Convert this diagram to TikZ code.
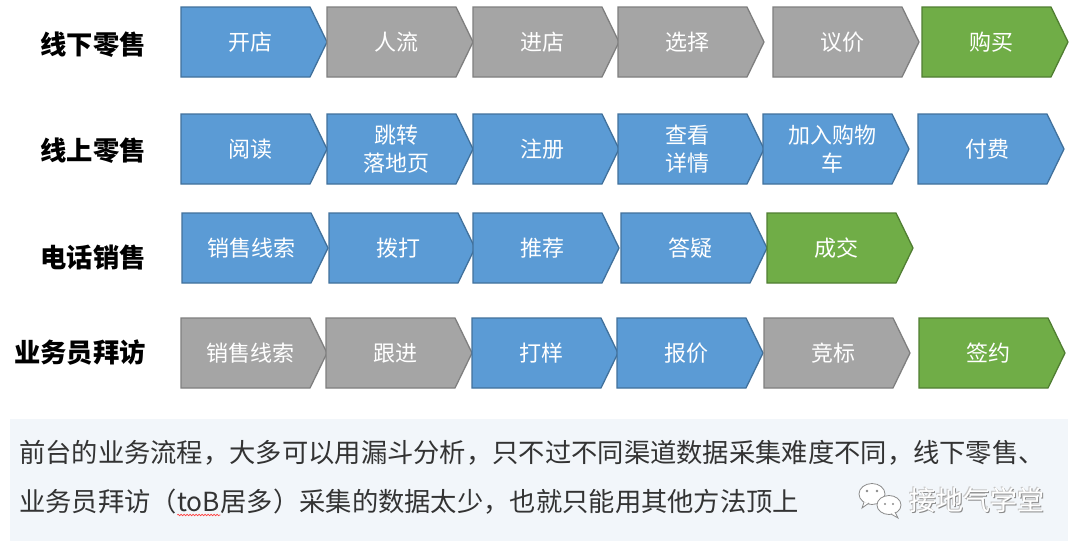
\documentclass[tikz,border=0pt]{standalone}
\usepackage{fontspec}
\usetikzlibrary{decorations.pathmorphing}
\setmainfont{Noto Sans CJK SC}
\definecolor{cblue}{HTML}{5B9BD5}
\definecolor{cblueD}{HTML}{41719C}
\definecolor{cgray}{HTML}{A5A5A5}
\definecolor{cgrayD}{HTML}{7F7F7F}
\definecolor{cgreen}{HTML}{70AD47}
\definecolor{cgreenD}{HTML}{507E32}
\definecolor{notebg}{HTML}{F2F6FA}
\definecolor{notetext}{HTML}{333333}
\definecolor{wmline}{HTML}{8A8A8A}
\tikzset{
  chev/.style={line width=1.3pt, line join=miter},
  bluech/.style={chev, fill=cblue, draw=cblueD},
  graych/.style={chev, fill=cgray, draw=cgrayD},
  greench/.style={chev, fill=cgreen, draw=cgreenD},
  boxtext/.style={text=white, font=\fontsize{22}{28}\selectfont, align=center, inner sep=0pt},
  rowlabel/.style={font=\fontsize{26.3}{30}\selectfont\bfseries, anchor=east, inner sep=0pt, text=black},
  notetxt/.style={font=\fontsize{26.3}{30}\selectfont, anchor=base west, inner sep=0pt, text=notetext},
  wmtxt/.style={font=\fontsize{27}{30}\selectfont, inner sep=0pt},
  bubble/.style={fill=white, draw=wmline, line width=0.8pt},
  spellwave/.style={draw=red!75, line width=0.6pt, decorate, decoration={snake, amplitude=0.8pt, segment length=3pt}},
}
\newcommand\chev[5]{%
  \draw[#4] (#2,#3-35) -- ++(129,0) -- ++(17,35) -- ++(-17,35) -- ++(-129,0) -- cycle;
  \node[boxtext] (#1) at (#2+69,#3) {#5};
}
\begin{document}
\begin{tikzpicture}[x=1pt,y=-1pt]
\useasboundingbox (0,0) rectangle (1080,549);
\fill[white] (0,0) rectangle (1080,549);

% row labels
\node[rowlabel] (lab1) at (146,45) {线下零售};
\node[rowlabel] (lab2) at (146,151) {线上零售};
\node[rowlabel] (lab3) at (146,257) {电话销售};
\node[rowlabel] (lab4) at (146,353) {业务员拜访};

% row 1
\chev{a1}{181}{42}{bluech}{开店}
\chev{a2}{327}{42}{graych}{人流}
\chev{a3}{473}{42}{graych}{进店}
\chev{a4}{618}{42}{graych}{选择}
\chev{a5}{773}{42}{graych}{议价}
\chev{a6}{922}{42}{greench}{购买}

% row 2
\chev{b1}{181}{149}{bluech}{阅读}
\chev{b2}{327}{149}{bluech}{跳转\\落地页}
\chev{b3}{473}{149}{bluech}{注册}
\chev{b4}{618}{149}{bluech}{查看\\详情}
\chev{b5}{763}{149}{bluech}{加入购物\\车}
\chev{b6}{918}{149}{bluech}{付费}

% row 3
\chev{c1}{182}{248}{bluech}{销售线索}
\chev{c2}{329}{248}{bluech}{拨打}
\chev{c3}{473}{248}{bluech}{推荐}
\chev{c4}{621}{248}{bluech}{答疑}
\chev{c5}{767}{248}{greench}{成交}

% row 4
\chev{d1}{181}{353}{graych}{销售线索}
\chev{d2}{326}{353}{graych}{跟进}
\chev{d3}{472}{353}{bluech}{打样}
\chev{d4}{617}{353}{bluech}{报价}
\chev{d5}{764}{353}{graych}{竞标}
\chev{d6}{919}{353}{greench}{签约}

% note box
\fill[notebg] (10,419) rectangle (1068,541);
\node[notetxt] (n1) at (19,462) {前台的业务流程，大多可以用漏斗分析，只不过不同渠道数据采集难度不同，线下零售、};
\node[notetxt] (n2a) at (19,511) {业务员拜访（};
\node[notetxt] (tob) at (n2a.base east) {toB};
\node[notetxt] (n2b) at (tob.base east) {居多）采集的数据太少，也就只能用其他方法顶上};
\path[spellwave] ([yshift=-4pt]tob.base west) -- ([yshift=-4pt]tob.base east);

% watermark icon
\draw[bubble] (872,494) ellipse [x radius=13, y radius=10.5];
\draw[bubble] (864,502) -- (862,508) -- (869,503);
\fill[wmline] (867,491) circle (1.3);
\fill[wmline] (877,491) circle (1.3);
\draw[bubble] (889,505) ellipse [x radius=12, y radius=9.5];
\draw[bubble] (895,512) -- (898,518) -- (891,514);
\fill[wmline] (885,504) circle (1.2);
\fill[wmline] (893,504) circle (1.2);

% watermark text
\node[wmtxt, text=wmline] (wm1) at (977.8,500.8) {接地气学堂};
\node[wmtxt, text=gray!45] (wm2) at (976.4,499.4) {接地气学堂};
\node[wmtxt, text=white] (wm) at (977,500) {接地气学堂};
\end{tikzpicture}
\end{document}
